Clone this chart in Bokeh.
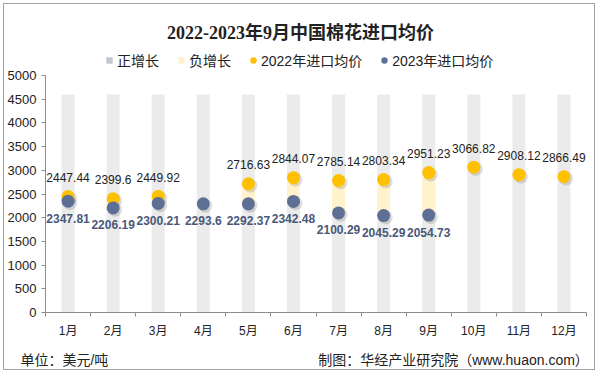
import math
import numpy as np
from bokeh.plotting import figure
from bokeh.models import (ColumnDataSource, Legend, LegendItem, FixedTicker, Range1d,
                          LinearAxis, Label)
from bokeh.embed import file_html
from bokeh.resources import INLINE

months = ["1月", "2月", "3月", "4月", "5月", "6月", "7月", "8月", "9月", "10月", "11月", "12月"]
price_2022 = [2447.44, 2399.6, 2449.92, float("nan"), 2716.63, 2844.07, 2785.14, 2803.34,
              2951.23, 3066.82, 2908.12, 2866.49]
price_2023 = [2347.81, 2206.19, 2300.21, 2293.6, 2292.37, 2342.48, 2100.29, 2045.29,
              2054.73, float("nan"), float("nan"), float("nan")]
background_top = [4600] * 12
y_ticks = [0, 500, 1000, 1500, 2000, 2500, 3000, 3500, 4000, 4500, 5000]
y_max = 5000
title_text = "2022-2023年9月中国棉花进口均价"
unit_text = "单位：美元/吨"
source_text = "制图：华经产业研究院（www.huaon.com）"

CJK = "Liberation Sans, Noto Sans CJK SC"
YELLOW = "#FFC000"
BLUE = "#5E6F95"
TXT = "#222222"

# layout (pixels)
W, H = 592, 367
FRAME_H = 308          # frame spans from canvas top down to the x axis
AXIS_H = 237           # pixel height of 0..5000
xs = [i + 0.5 for i in range(len(months))]

neg_x, neg_bottom, neg_top = [], [], []
pos_x, pos_bottom, pos_top = [], [], []
for x, a, b in zip(xs, price_2022, price_2023):
    if math.isnan(a) or math.isnan(b):
        continue
    if b < a:
        neg_x.append(x); neg_bottom.append(b); neg_top.append(a)
    else:
        pos_x.append(x); pos_bottom.append(a); pos_top.append(b)

def series_source(vals):
    keep = [(x, v) for x, v in zip(xs, vals) if not math.isnan(v)]
    return ColumnDataSource(dict(x=[k[0] for k in keep], y=[k[1] for k in keep],
                                 t=["%g" % k[1] for k in keep]))

src22 = series_source(price_2022)
src23 = series_source(price_2023)

p = figure(width=W, height=H, output_backend="svg", toolbar_location=None,
           x_range=Range1d(0, 12), y_range=Range1d(0, y_max * FRAME_H / AXIS_H),
           min_border_left=40, min_border_right=10, min_border_top=0,
           min_border_bottom=H - FRAME_H)
p.styles = {"margin-left": "3px", "margin-top": "3px", "border": "1px solid #a0a0a0"}
p.outline_line_color = None
p.xgrid.visible = False
p.ygrid.visible = False

# background columns
p.vbar(x=xs, top=background_top, bottom=0, width=0.29, fill_color="#EBEBEB", line_color=None)
# growth bars
p.vbar(x=pos_x, top=pos_top, bottom=pos_bottom, width=0.29, fill_color="#C2C6D3",
       line_color=None)
p.vbar(x=neg_x, top=neg_top, bottom=neg_bottom, width=0.29, fill_color="#FFF2CC",
       line_color=None)

# soft shadows
for src in (src22, src23):
    p.scatter(x=np.array(src.data["x"]) + 0.045, y=np.array(src.data["y"]) - 40, size=14,
              fill_color="#000000", fill_alpha=0.13, line_color=None)

r22 = p.scatter(x="x", y="y", source=src22, size=13, fill_color=YELLOW, line_color=None)
r23 = p.scatter(x="x", y="y", source=src23, size=13, fill_color=BLUE, line_color=None)

p.text(x="x", y="y", text="t", source=src22, y_offset=-19, text_align="center",
       text_baseline="middle", text_font_size="12px", text_color=TXT,
       text_font={"value": "Liberation Sans"})
p.text(x="x", y="y", text="t", source=src23, y_offset=17, text_align="center",
       text_baseline="middle", text_font_size="12px", text_font_style="bold",
       text_color="#4A5878", text_font={"value": "Liberation Sans"})

# legend proxies (not drawn in the plot: NaN positions)
nan = [float("nan")]
leg_pos = p.scatter(x=nan, y=nan, marker="square", size=6, fill_color="#C2C6D3", line_color=None)
leg_neg = p.scatter(x=nan, y=nan, marker="square", size=6, fill_color="#FFF2CC", line_color=None)
leg_22 = p.scatter(x=nan, y=nan, size=6, fill_color=YELLOW, line_color=None)
leg_23 = p.scatter(x=nan, y=nan, size=6, fill_color=BLUE, line_color=None)

# axes
xa = p.xaxis[0]
xa.ticker = FixedTicker(ticks=xs, minor_ticks=list(range(13)))
xa.major_label_overrides = {x: m for x, m in zip(xs, months)}
xa.major_tick_line_color = None
xa.major_tick_out = 0
xa.minor_tick_line_color = "#8c8c8c"
xa.minor_tick_out = 4
xa.minor_tick_in = 0
xa.axis_line_color = "#8c8c8c"
xa.major_label_text_font = CJK
xa.major_label_text_font_size = "12px"
xa.major_label_text_color = TXT
xa.major_label_standoff = 7

ya = p.yaxis[0]
ya.ticker = FixedTicker(ticks=y_ticks)
ya.bounds = (0, y_max)
ya.minor_tick_line_color = None
ya.major_tick_line_color = "#8c8c8c"
ya.major_tick_out = 4
ya.major_tick_in = 0
ya.axis_line_color = "#8c8c8c"
ya.major_label_text_font = "Liberation Sans"
ya.major_label_text_font_size = "13px"
ya.major_label_text_color = TXT
ya.major_label_standoff = 5

# footer as an unlined axis below
p.extra_x_ranges = {"foot": Range1d(0, 12)}
foot = LinearAxis(x_range_name="foot", ticker=FixedTicker(ticks=[0.42, 9.05], minor_ticks=[]),
                  major_label_overrides={0.42: unit_text, 9.05: source_text},
                  axis_line_color=None, major_tick_line_color=None, minor_tick_line_color=None,
                  major_tick_out=0, major_tick_in=0, major_label_standoff=11,
                  major_label_text_font=CJK, major_label_text_font_size="14px",
                  major_label_text_color=TXT)
p.add_layout(foot, "below")

legend = Legend(items=[
    LegendItem(label="正增长", renderers=[leg_pos]),
    LegendItem(label="负增长", renderers=[leg_neg]),
    LegendItem(label="2022年进口均价", renderers=[leg_22]),
    LegendItem(label="2023年进口均价", renderers=[leg_23]),
], orientation="horizontal", location=(56, FRAME_H - 70 + 4), padding=0, margin=0,
    spacing=14, label_standoff=0, glyph_width=16, glyph_height=16, label_height=16,
    label_text_font=CJK, label_text_font_size="14px", label_text_color=TXT,
    border_line_color=None, background_fill_alpha=0)
p.add_layout(legend, "center")

p.add_layout(Label(x=255, y=FRAME_H - 28, x_units="screen", y_units="screen",
                   text=title_text, text_align="center", text_baseline="middle",
                   text_font="Liberation Serif, Noto Sans CJK SC", text_font_size="18px",
                   text_font_style="bold", text_color=TXT))

open("out.html", "w").write(file_html(p, INLINE))
